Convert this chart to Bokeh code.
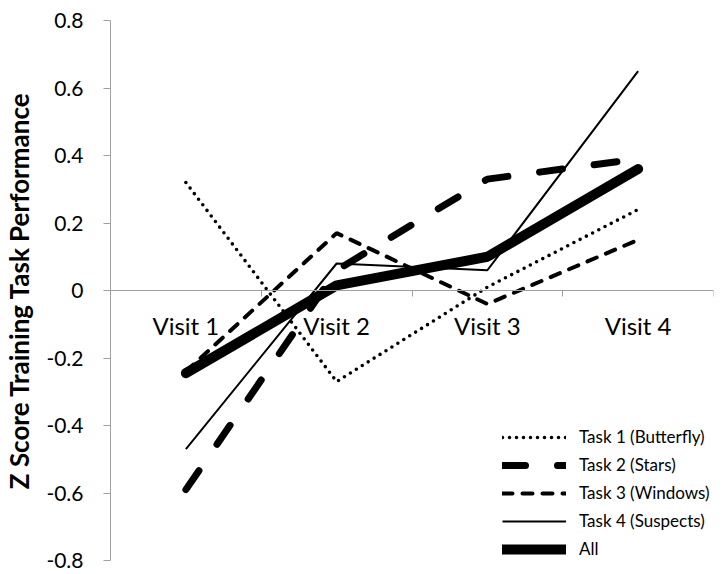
from bokeh.plotting import figure
from bokeh.models import (Range1d, LinearAxis, FixedTicker, Legend, LegendItem,
                          ColumnDataSource)
from bokeh.embed import file_html
from bokeh.resources import INLINE

# ---- data ----
visits = ["Visit 1", "Visit 2", "Visit 3", "Visit 4"]
task1_butterfly = [0.32, -0.27, 0.01, 0.24]
task2_stars = [-0.59, 0.06, 0.33, 0.39]
task3_windows = [-0.24, 0.17, -0.04, 0.15]
task4_suspects = [-0.47, 0.08, 0.06, 0.65]
all_tasks = [-0.245, 0.015, 0.10, 0.36]

y_ticks = [-0.8, -0.6, -0.4, -0.2, 0.0, 0.2, 0.4, 0.6, 0.8]
y_tick_labels = ["-0.8", "-0.6", "-0.4", "-0.2", "0", "0.2", "0.4", "0.6", "0.8"]
y_title = "Z Score Training Task Performance"
legend_labels = ["Task 1 (Butterfly)", "Task 2 (Stars)", "Task 3 (Windows)",
                 "Task 4 (Suspects)", "All"]

x_pos = list(range(1, len(visits) + 1))
boundaries = [i + 0.5 for i in range(len(visits) + 1)]

FONT = "Lato"
GRAY = "#A0A0A0"

src = ColumnDataSource(dict(x=x_pos, t1=task1_butterfly, t2=task2_stars,
                            t3=task3_windows, t4=task4_suspects, al=all_tasks))

p = figure(width=728, height=574,
           x_range=Range1d(0.5, len(visits) + 0.5), y_range=Range1d(-0.8, 0.8),
           output_backend="svg", toolbar_location=None,
           x_axis_location=None, y_axis_location="left",
           min_border_left=110, min_border_right=15,
           min_border_top=20, min_border_bottom=14)
p.outline_line_color = None
p.grid.visible = False
p.background_fill_color = "white"
p.border_fill_color = "white"

# y axis
yax = p.yaxis[0]
yax.ticker = FixedTicker(ticks=y_ticks)
yax.major_label_overrides = {t: l for t, l in zip(y_ticks, y_tick_labels)}
yax.axis_line_color = GRAY
yax.major_tick_line_color = GRAY
yax.major_tick_out = 7
yax.major_tick_in = 0
yax.minor_tick_line_color = None
yax.major_label_standoff = 20
yax.major_label_text_font = FONT
yax.major_label_text_font_size = "21px"
yax.major_label_text_color = "black"
yax.axis_label = y_title
yax.axis_label_text_font = FONT
yax.axis_label_text_font_style = "bold"
yax.axis_label_text_font_size = "26px"
yax.axis_label_text_color = "black"
yax.axis_label_standoff = 8

# x axis at y = 0: tick marks between categories
xticks_ax = LinearAxis(ticker=FixedTicker(ticks=boundaries), fixed_location=0,
                       major_label_text_color=None,
                       axis_line_color=GRAY, major_tick_line_color=GRAY,
                       major_tick_out=6, major_tick_in=0,
                       minor_tick_line_color=None)
# category labels
xlab_ax = LinearAxis(ticker=FixedTicker(ticks=x_pos), fixed_location=0,
                     major_label_overrides={x: v for x, v in zip(x_pos, visits)},
                     axis_line_color=None, major_tick_line_color=None,
                     major_tick_out=0, major_tick_in=0,
                     minor_tick_line_color=None,
                     major_label_standoff=20,
                     major_label_text_font=FONT,
                     major_label_text_font_size="24px",
                     major_label_text_color="black")
p.add_layout(xticks_ax, "below")
p.add_layout(xlab_ax, "below")

r1 = p.line("x", "t1", source=src, line_color="black", line_width=3.6,
            line_dash="0 7", line_cap="round")
r2 = p.line("x", "t2", source=src, line_color="black", line_width=7,
            line_dash="23 32", line_cap="round")
r3 = p.line("x", "t3", source=src, line_color="black", line_width=4,
            line_dash="10 10", line_cap="round")
r4 = p.line("x", "t4", source=src, line_color="black", line_width=2)
r5 = p.line("x", "al", source=src, line_color="black", line_width=10,
            line_cap="round", line_join="round")

legend = Legend(items=[LegendItem(label=l, renderers=[r])
                       for l, r in zip(legend_labels, [r1, r2, r3, r4, r5])],
                location=(392, 1), padding=0, spacing=7, margin=0,
                glyph_width=64, glyph_height=20, label_height=20,
                label_standoff=13, label_text_font=FONT,
                label_text_font_size="17px", label_text_color="black",
                border_line_color=None, background_fill_alpha=0)
p.add_layout(legend)

open("out.html", "w").write(file_html(p, INLINE))
